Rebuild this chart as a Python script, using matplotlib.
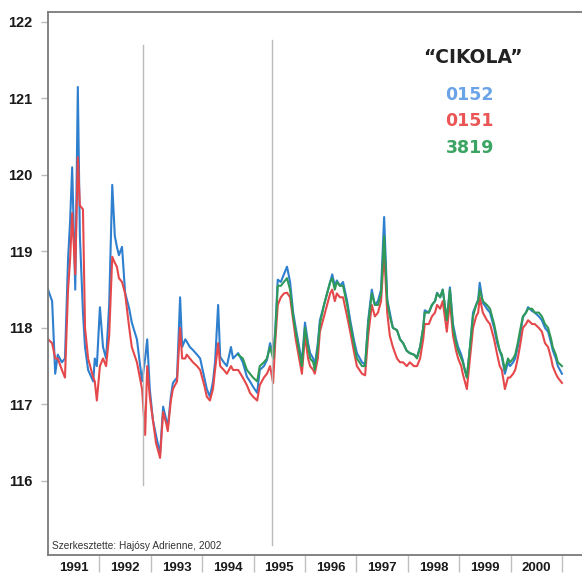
import numpy as np
import matplotlib
matplotlib.use("Agg")
import matplotlib.pyplot as plt

plt.rcParams["font.family"] = ["Liberation Sans", "DejaVu Sans"]

# idopontok (tort evek)
dates = [
    1991.00, 1991.08, 1991.14, 1991.19, 1991.27, 1991.33, 1991.39, 1991.43, 1991.47, 1991.53, 1991.58, 1991.62, 1991.68, 1991.72, 1991.78, 1991.88, 1991.91, 1991.95,
    1992.01, 1992.07, 1992.13, 1992.19, 1992.25, 1992.30, 1992.34, 1992.38, 1992.44, 1992.50, 1992.58, 1992.63, 1992.73, 1992.83, 1992.89, 1992.93, 1992.98,
    1993.04, 1993.10, 1993.18, 1993.24, 1993.30, 1993.33, 1993.39, 1993.43, 1993.51, 1993.57, 1993.61, 1993.67, 1993.70, 1993.76, 1993.82, 1993.90, 1993.96,
    1994.04, 1994.09, 1994.15, 1994.21, 1994.25, 1994.31, 1994.35, 1994.42, 1994.48, 1994.56, 1994.60, 1994.70, 1994.79, 1994.87, 1994.93, 1994.99,
    1995.07, 1995.12, 1995.20, 1995.26, 1995.32, 1995.38, 1995.42, 1995.47, 1995.53, 1995.59, 1995.65, 1995.71, 1995.77, 1995.82, 1995.86, 1995.94,
    1996.00, 1996.06, 1996.10, 1996.16, 1996.19, 1996.25, 1996.29, 1996.37, 1996.43, 1996.49, 1996.53, 1996.58, 1996.62, 1996.68, 1996.74, 1996.82, 1996.88, 1996.95,
    1997.01, 1997.11, 1997.17, 1997.23, 1997.30, 1997.36, 1997.42, 1997.48, 1997.54, 1997.60, 1997.65, 1997.71, 1997.79, 1997.85, 1997.91, 1997.98,
    1998.04, 1998.12, 1998.18, 1998.24, 1998.30, 1998.33, 1998.41, 1998.47, 1998.53, 1998.57, 1998.63, 1998.68, 1998.76, 1998.82, 1998.88, 1998.94, 1998.98,
    1999.04, 1999.07, 1999.11, 1999.15, 1999.21, 1999.27, 1999.33, 1999.37, 1999.40, 1999.46, 1999.54, 1999.60, 1999.68, 1999.74, 1999.79, 1999.83, 1999.89, 1999.95, 1999.99,
    2000.05, 2000.09, 2000.14, 2000.18, 2000.24, 2000.30, 2000.34, 2000.42, 2000.47, 2000.55, 2000.61, 2000.67, 2000.73, 2000.79, 2000.82, 2000.88, 2000.92, 2001.00,
]

# 0152 kut (kek)
s0152 = [
    118.50, 118.35, 117.40, 117.65, 117.55, 117.60, 118.90, 119.40, 120.10, 118.50, 121.15, 119.20, 118.20, 117.75, 117.45, 117.30, 117.60, 117.50,
    118.27, 117.75, 117.60, 118.30, 119.87, 119.20, 119.06, 118.95, 119.06, 118.46, 118.25, 118.07, 117.85, 117.30, 117.60, 117.85, 117.20,
    116.80, 116.60, 116.35, 116.97, 116.80, 116.70, 117.10, 117.28, 117.35, 118.40, 117.75, 117.85, 117.82, 117.75, 117.71, 117.65, 117.60,
    117.35, 117.20, 117.10, 117.30, 117.55, 118.30, 117.62, 117.55, 117.50, 117.75, 117.60, 117.67, 117.55, 117.36, 117.30, 117.23,
    117.15, 117.45, 117.50, 117.58, 117.80, 117.65, 117.95, 118.63, 118.60, 118.70, 118.80, 118.60, 118.20, 118.00, 117.85, 117.55,
    118.07, 117.80, 117.67, 117.60, 117.50, 117.80, 118.10, 118.30, 118.45, 118.60, 118.70, 118.55, 118.62, 118.55, 118.60, 118.35, 118.10, 117.85,
    117.67, 117.55, 117.52, 118.10, 118.50, 118.30, 118.35, 118.50, 119.45, 118.37, 118.20, 118.00, 117.97, 117.85, 117.80, 117.70,
    117.67, 117.65, 117.62, 117.75, 118.00, 118.23, 118.20, 118.30, 118.35, 118.46, 118.40, 118.50, 118.10, 118.53, 118.05, 117.85, 117.75,
    117.65, 117.58, 117.45, 117.35, 117.75, 118.20, 118.30, 118.37, 118.59, 118.33, 118.25, 118.20, 118.00, 117.80, 117.70, 117.62, 117.40, 117.55, 117.50,
    117.55, 117.60, 117.75, 117.88, 118.14, 118.20, 118.27, 118.22, 118.20, 118.15, 118.10, 118.00, 117.95, 117.80, 117.71, 117.60, 117.50, 117.40,
]

# 0151 kut (piros)
s0151 = [
    117.85, 117.80, 117.60, 117.60, 117.45, 117.35, 118.50, 118.90, 119.50, 118.70, 120.23, 119.60, 119.55, 118.00, 117.60, 117.35, 117.30, 117.05,
    117.50, 117.60, 117.50, 117.90, 118.93, 118.85, 118.80, 118.65, 118.60, 118.45, 118.00, 117.75, 117.55, 117.20, 116.60, 117.50, 117.10,
    116.80, 116.50, 116.30, 116.90, 116.75, 116.65, 117.05, 117.20, 117.30, 118.00, 117.60, 117.60, 117.65, 117.60, 117.55, 117.50, 117.45,
    117.25, 117.10, 117.05, 117.20, 117.45, 117.80, 117.50, 117.45, 117.40, 117.50, 117.45, 117.45, 117.35, 117.25, 117.15, 117.10,
    117.05, 117.25, 117.35, 117.40, 117.50, 117.28, 117.80, 118.30, 118.40, 118.45, 118.46, 118.40, 118.10, 117.85, 117.70, 117.40,
    117.90, 117.60, 117.50, 117.45, 117.40, 117.60, 117.95, 118.15, 118.30, 118.45, 118.50, 118.35, 118.45, 118.40, 118.40, 118.15, 117.95, 117.70,
    117.50, 117.40, 117.38, 117.90, 118.30, 118.15, 118.20, 118.35, 119.00, 118.20, 117.90, 117.75, 117.60, 117.55, 117.55, 117.50,
    117.55, 117.50, 117.50, 117.60, 117.85, 118.05, 118.05, 118.15, 118.20, 118.30, 118.25, 118.35, 117.95, 118.35, 117.90, 117.70, 117.60,
    117.50, 117.40, 117.30, 117.20, 117.60, 118.00, 118.15, 118.20, 118.40, 118.20, 118.10, 118.05, 117.85, 117.65, 117.50, 117.45, 117.20, 117.35, 117.35,
    117.40, 117.45, 117.60, 117.75, 118.00, 118.05, 118.10, 118.05, 118.05, 118.00, 117.95, 117.80, 117.75, 117.60, 117.50, 117.40, 117.35, 117.28,
]

# 3819 kut (zold) - 1994 osszel indul
s3819 = [
    117.65, 117.60, 117.45, 117.40, 117.35,
    117.30, 117.50, 117.55, 117.60, 117.75, 117.60, 117.90, 118.55, 118.55, 118.60, 118.65, 118.50, 118.15, 117.95, 117.80, 117.50,
    118.00, 117.75, 117.60, 117.55, 117.45, 117.75, 118.05, 118.30, 118.45, 118.60, 118.65, 118.50, 118.60, 118.55, 118.55, 118.30, 118.05, 117.80,
    117.60, 117.50, 117.50, 118.05, 118.45, 118.30, 118.30, 118.45, 119.20, 118.35, 118.15, 118.00, 117.97, 117.85, 117.80, 117.70,
    117.67, 117.65, 117.60, 117.75, 118.00, 118.20, 118.20, 118.30, 118.35, 118.45, 118.40, 118.50, 118.10, 118.50, 118.00, 117.80, 117.70,
    117.60, 117.55, 117.45, 117.35, 117.75, 118.15, 118.30, 118.35, 118.50, 118.35, 118.30, 118.25, 118.05, 117.85, 117.70, 117.65, 117.45, 117.60, 117.55,
    117.60, 117.65, 117.80, 117.95, 118.15, 118.20, 118.25, 118.25, 118.20, 118.20, 118.15, 118.05, 118.00, 117.85, 117.75, 117.65, 117.55, 117.50,
]
dates_3819 = dates[-len(s3819):]

years = [1991, 1992, 1993, 1994, 1995, 1996, 1997, 1998, 1999, 2000]
markers = [1992.85, 1995.36]  # fuggoleges vonalak
yticks = [116, 117, 118, 119, 120, 121, 122]

fig = plt.figure(figsize=(5.82, 5.73), dpi=100)
ax = fig.add_axes([0.0825, 0.0314, 0.9175, 0.9476])

ax.plot(dates, s0152, color="#2f7fcf", lw=1.5)
ax.plot(dates, s0151, color="#e5484b", lw=1.5)
ax.plot(dates_3819, s3819, color="#2f9a58", lw=1.5)

ax.plot([markers[0], markers[0]], [115.95, 121.7], color="#bbbbbb", lw=1.0)
ax.plot([markers[1], markers[1]], [115.16, 121.76], color="#bbbbbb", lw=1.0)

ax.set_xlim(1991.0, 2001.39)
ax.set_ylim(115.03, 122.13)

ax.set_yticks(yticks)
ax.set_yticklabels([str(v) for v in yticks], fontweight="bold", fontsize=10.5)
ax.tick_params(axis="y", length=5, width=1, color="#bbbbbb", pad=6, labelcolor="#1a1a1a")

ax.set_xticks([y + 0.5 for y in years])
ax.set_xticklabels([str(y) for y in years], fontweight="bold", fontsize=9.5)
ax.set_xticks([y + 1 for y in years], minor=True)
ax.tick_params(axis="x", which="major", length=0, pad=5, labelcolor="#1a1a1a")
ax.tick_params(axis="x", which="minor", length=12, width=1, color="#c0c0c0")

for s in ["left", "top", "bottom"]:
    ax.spines[s].set_color("#7a7a7a")
    ax.spines[s].set_linewidth(1.3)
ax.spines["right"].set_visible(False)

ax.text(1991.08, 115.08, "Szerkesztette: Hajósy Adrienne, 2002", fontsize=7.3,
        color="#333333", ha="left", va="bottom")

# cim es "jelmagyarazat"
ax.text(0.795, 0.916, "\u201cCIKOLA\u201d", transform=ax.transAxes, fontsize=13.5,
        fontweight="bold", family="DejaVu Sans", color="#222222", ha="center", va="center")
ax.text(0.79, 0.847, "0152", transform=ax.transAxes, fontsize=12.5,
        fontweight="bold", family="DejaVu Sans", color="#6aa3e6", ha="center", va="center")
ax.text(0.79, 0.799, "0151", transform=ax.transAxes, fontsize=12.5,
        fontweight="bold", family="DejaVu Sans", color="#ea5656", ha="center", va="center")
ax.text(0.79, 0.749, "3819", transform=ax.transAxes, fontsize=12.5,
        fontweight="bold", family="DejaVu Sans", color="#3aa462", ha="center", va="center")

plt.savefig("out.png", dpi=100)
